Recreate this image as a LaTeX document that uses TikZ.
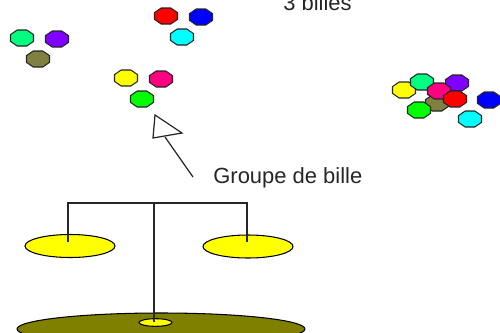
\documentclass[tikz,border=0pt]{standalone}
\usepackage{fontspec}
\setmainfont{Liberation Sans}
\definecolor{bmint}{RGB}{0,255,128}
\definecolor{bviolet}{RGB}{128,0,255}
\definecolor{bkaki}{RGB}{128,128,64}
\definecolor{brose}{RGB}{255,0,128}
\definecolor{bcyan}{RGB}{0,255,255}
\definecolor{bbleu}{RGB}{0,0,255}
\definecolor{brouge}{RGB}{255,0,0}
\definecolor{bvert}{RGB}{0,255,0}
\definecolor{bjaune}{RGB}{255,255,0}
\definecolor{socle}{RGB}{128,128,0}
\tikzset{
  bille/.pic={
    \draw[fill=#1, line width=0.6pt, draw=black!85]
      (-11.5,-3.4) -- (-4.8,-8) -- (4.8,-8) -- (11.5,-3.4) --
      (11.5,3.4) -- (4.8,8) -- (-4.8,8) -- (-11.5,3.4) -- cycle;
  },
  trait/.style={line width=0.8pt, draw=black!85},
  plateau/.style={fill=bjaune, draw=black, line width=0.6pt},
  legende/.style={font=\fontsize{12.5}{14}\selectfont, inner sep=0pt, text=black!85},
}
\begin{document}
\begin{tikzpicture}[x=0.02cm, y=-0.02cm]
  \useasboundingbox (0,0) rectangle (500,332);

  % three separate groups of three balls
  \pic at (22,38)  {bille=bmint};
  \pic at (57,39)  {bille=bviolet};
  \pic at (38,59)  {bille=bkaki};

  \pic at (166,16) {bille=brouge};
  \pic at (201,17) {bille=bbleu};
  \pic at (182,37) {bille=bcyan};

  \pic at (126,78) {bille=bjaune};
  \pic at (161,79) {bille=brose};
  \pic at (142,99) {bille=bvert};

  % all nine balls gathered in a heap
  \pic at (404,90)  {bille=bjaune};
  \pic at (422,82)  {bille=bmint};
  \pic at (457,83)  {bille=bviolet};
  \pic at (437,103) {bille=bkaki};
  \pic at (439,91)  {bille=brose};
  \pic at (455,99)  {bille=brouge};
  \pic at (419,110) {bille=bvert};
  \pic at (489,100) {bille=bbleu};
  \pic at (470,119) {bille=bcyan};

  % labels
  \node[legende, anchor=base west] (titre) at (283,10) {3 billes};
  \node[legende, anchor=base west] (groupe) at (213,183) {Groupe de bille};

  % pointer with an open arrowhead
  \coordinate (pointe) at (155,115);
  \coordinate (coinD) at (182,133);
  \coordinate (coinG) at (153,138);
  \coordinate (base) at (165,137);
  \coordinate (queue) at (193,177);
  \draw[trait, fill=white, line width=0.7pt] (pointe) -- (coinD) -- (coinG) -- cycle;
  \draw[trait, line width=0.7pt] (queue) -- (base);

  % balance: base, post, beam and pans
  \fill[socle] (161,329) ellipse [x radius=144, y radius=16];
  \draw[black, line width=0.6pt] (161,329) ellipse [x radius=144, y radius=16];
  \draw[plateau] (70,246) ellipse [x radius=45, y radius=11.5];
  \draw[plateau] (248,246.5) ellipse [x radius=45, y radius=11.5];

  \coordinate (fleauG) at (68,203);
  \coordinate (fleauD) at (247,203);
  \coordinate (pivot) at (154,203);
  \coordinate (pied) at (154,322);
  \coordinate (attacheG) at (68,242);
  \coordinate (attacheD) at (247,242);
  \draw[trait] (attacheG) -- (fleauG) -- (fleauD) -- (attacheD);
  \draw[plateau] (155.5,322.5) ellipse [x radius=16.5, y radius=3.8];
  \draw[trait] (pivot) -- (pied);
\end{tikzpicture}
\end{document}
